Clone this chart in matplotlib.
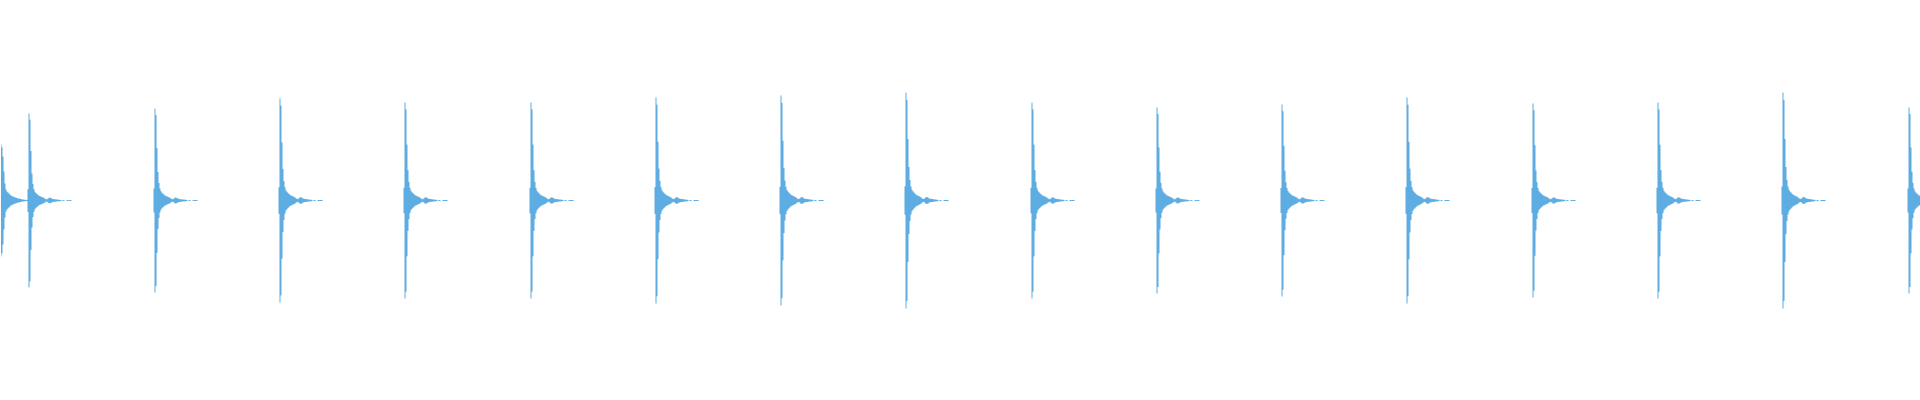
import numpy as np
import matplotlib
matplotlib.use('Agg')
import matplotlib.pyplot as plt

# clip length (s) and resolution of the envelope below (s per step)
duration = 7.68
step = 0.004

# onset of each hit (s) and its peak amplitude (full scale = 1.0)
onsets = [0.112, 0.616, 1.116, 1.616, 2.120, 2.620, 3.120, 3.620,
          4.124, 4.624, 5.124, 5.624, 6.128, 6.628, 7.128, 7.632]
peaks = [0.435, 0.46, 0.51, 0.49, 0.49, 0.515, 0.525, 0.54,
         0.49, 0.465, 0.48, 0.515, 0.485, 0.49, 0.54, 0.465]

# decay of one hit, relative to its peak, one value per step, from 1 step before onset
decay = [0.13, 1.0, 0.93, 0.57, 0.31, 0.19, 0.13, 0.10, 0.085, 0.075, 0.065,
         0.055, 0.05, 0.045, 0.04, 0.035, 0.03, 0.022, 0.014, 0.014, 0.022,
         0.032, 0.032, 0.028, 0.02, 0.018, 0.014, 0.014, 0.014, 0.01, 0.01,
         0.01, 0.006, 0.006, 0.0, 0.005, 0.005, 0.0, 0.0, 0.005, 0.005,
         0.005, 0.005, 0.005]

# tail of a hit that started before the clip, one value per step from t=0
lead_in = [0.28, 0.265, 0.22, 0.145, 0.085, 0.055, 0.045, 0.04, 0.035, 0.03,
           0.025, 0.022, 0.02, 0.018, 0.015, 0.015, 0.012, 0.01, 0.01, 0.008,
           0.008, 0.005, 0.005, 0.005, 0.003, 0.003, 0.003]

n = int(round(duration / step))
t = (np.arange(n) + 0.5) * step
env = np.zeros(n)
env[:len(lead_in)] += np.array(lead_in)
for on, pk in zip(onsets, peaks):
    i0 = int(round(on / step)) - 1
    for k, v in enumerate(decay):
        if 0 <= i0 + k < n:
            env[i0 + k] += pk * v

fig = plt.figure(figsize=(19.2, 4), dpi=100)
ax = fig.add_axes([0, 0, 1, 1])
ax.fill_between(t, -env, env, step='mid', color='#5dade2', linewidth=0)
ax.set_xlim(0, duration)
ax.set_ylim(-1, 1)
ax.axis('off')
fig.savefig('out.png', dpi=100, facecolor='white')
